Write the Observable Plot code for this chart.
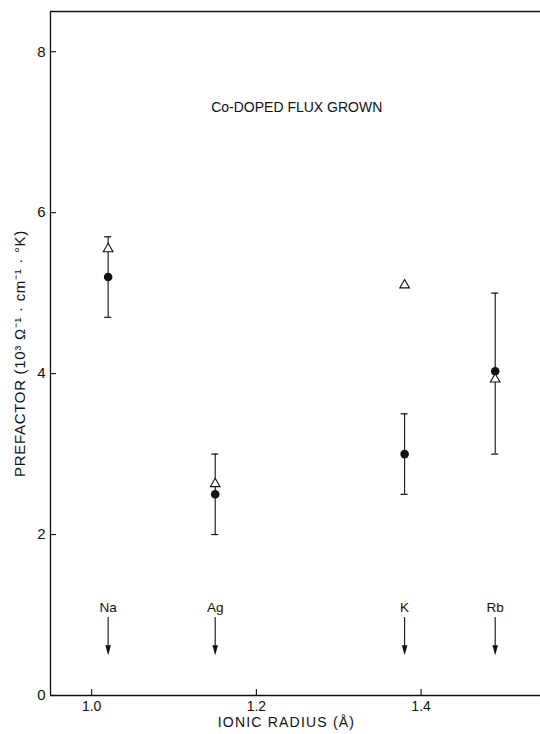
<!DOCTYPE html>
<html><head><meta charset="utf-8">
<script src="https://cdn.jsdelivr.net/npm/d3@7"></script>
<script src="https://cdn.jsdelivr.net/npm/@observablehq/plot@0.6"></script>
<style>body{margin:0;background:#fff;} svg{font-family:"Liberation Sans",Arial,sans-serif;}</style>
</head><body><div id="chart"></div>
<script>
// Data
const ions = ["Na", "Ag", "K", "Rb"];
const radius = [1.02, 1.15, 1.38, 1.49];
const circleVal = [5.2, 2.5, 3.0, 4.03];
const errLow = [4.7, 2.0, 2.5, 3.0];
const errHigh = [5.7, 3.0, 3.5, 5.0];
const triangleVal = [5.55, 2.63, 5.1, 3.93];
const xTicks = [1.0, 1.2, 1.4];
const yTicks = [0, 2, 4, 6, 8];
const xDomain = [0.95, 1.545];
const yDomain = [0, 8.5];
const arrowTop = 0.97, arrowTip = 0.5, ionLabelY = 1.09;
const titleText = "Co-DOPED FLUX GROWN";
const titleX = 1.249, titleY = 7.31;
const xLabel = "IONIC RADIUS (Å)";
const yLabel = "PREFACTOR (10³ Ω⁻¹ · cm⁻¹ · °K)";

const pts = ions.map((ion, i) => ({ion, x: radius[i], c: circleVal[i], lo: errLow[i], hi: errHigh[i], t: triangleVal[i]}));

const arrowHead = {
  draw(ctx) {
    ctx.moveTo(0, 0);
    ctx.lineTo(-2.8, -10);
    ctx.lineTo(2.8, -10);
    ctx.closePath();
  }
};

const chart = Plot.plot({
  width: 540,
  height: 734,
  marginTop: 11,
  marginBottom: 39,
  marginLeft: 50,
  marginRight: 0,
  style: {fontFamily: "'Liberation Sans', Arial, sans-serif", color: "#111", background: "#fff"},
  x: {domain: xDomain},
  y: {domain: yDomain},
  marks: [
    Plot.ruleX([xDomain[0]], {stroke: "#111", strokeWidth: 1.3}),
    Plot.ruleY([yDomain[0]], {stroke: "#111", strokeWidth: 1.3}),
    Plot.ruleY([yDomain[1]], {stroke: "#111", strokeWidth: 1.3}),
    // inward tick marks
    Plot.ruleX(xTicks, {x: d => d, y1: () => yDomain[0], y2: () => yDomain[0], insetTop: -6, stroke: "#111", strokeWidth: 1.1}),
    Plot.ruleY(yTicks, {y: d => d, x1: () => xDomain[0], x2: () => xDomain[0], insetRight: -6, stroke: "#111", strokeWidth: 1.1}),
    Plot.axisX(xTicks, {tickSize: 0, tickPadding: 6, tickFormat: d3.format(".1f"), label: null, fontSize: 14}),
    Plot.axisY(yTicks, {tickSize: 0, tickPadding: 5, tickFormat: d3.format("d"), label: null, fontSize: 15}),
    Plot.text([xLabel], {frameAnchor: "bottom", dy: 31, dx: -9, fontSize: 14, fill: "#111"}),
    Plot.text([yLabel], {frameAnchor: "left", textAnchor: "middle", rotate: -90, dx: -30, fontSize: 15, fill: "#111"}),
    Plot.text([titleText], {x: () => titleX, y: () => titleY, fontSize: 14, fill: "#111"}),
    // error bars
    Plot.ruleX(pts, {x: "x", y1: "lo", y2: "hi", stroke: "#111", strokeWidth: 1.1}),
    Plot.ruleY(pts, {y: "lo", x1: "x", x2: "x", insetLeft: -3.5, insetRight: -3.5, stroke: "#111", strokeWidth: 1.2}),
    Plot.ruleY(pts, {y: "hi", x1: "x", x2: "x", insetLeft: -3.5, insetRight: -3.5, stroke: "#111", strokeWidth: 1.2}),
    Plot.dot(pts, {x: "x", y: "c", r: 4.3, fill: "#111", stroke: "none"}),
    Plot.dot(pts, {x: "x", y: "t", r: 3.6, symbol: "triangle", fill: "#fff", stroke: "#111", strokeWidth: 1.1}),
    // ion arrows
    Plot.ruleX(pts, {x: "x", y1: () => arrowTop, y2: () => arrowTip + 0.08, stroke: "#111", strokeWidth: 1.1}),
    Plot.dot(pts, {x: "x", y: () => arrowTip, symbol: arrowHead, fill: "#111", stroke: "none"}),
    Plot.text(pts, {x: "x", y: () => ionLabelY, text: "ion", fontSize: 13.5, fill: "#111"})
  ]
});
// widen the lettering of the two axis titles like the original
chart.querySelectorAll("text").forEach(t => {
  if (t.textContent === xLabel) t.style.letterSpacing = "1.2px";
  if (t.textContent === yLabel) t.style.letterSpacing = "0.7px";
});
document.getElementById("chart").append(chart);
</script>
</body></html>
